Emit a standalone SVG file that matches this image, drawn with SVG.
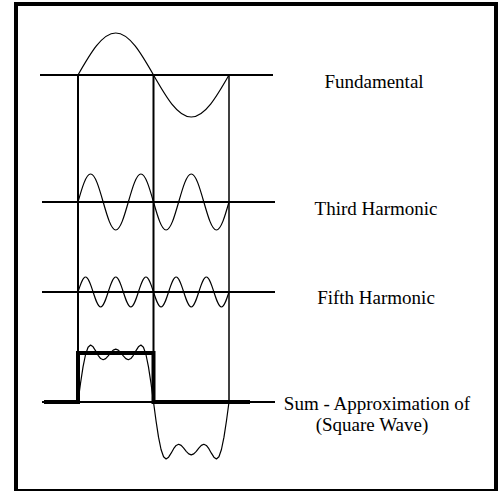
<svg xmlns="http://www.w3.org/2000/svg" width="503" height="491" viewBox="0 0 503 491">
<style>
.frame{fill:none;stroke:#000;stroke-width:4}
.axis{stroke:#000;stroke-width:2;fill:none}
.vline{stroke:#000;stroke-width:2;fill:none}
.wave{stroke:#000;stroke-width:1.2;fill:none;stroke-linejoin:round}
.square{stroke:#000;stroke-width:4;fill:none;stroke-linejoin:miter}
.label{font-family:"Liberation Serif","Times New Roman",serif;font-size:19px;fill:#000;text-anchor:middle}
</style>
<rect class="frame" x="16" y="4" width="480" height="487"/>
<g id="connectors">
<line class="vline" x1="78" y1="75" x2="78" y2="353"/>
<line class="vline" x1="153.5" y1="75" x2="153.5" y2="353"/>
<line class="vline" x1="229" y1="75" x2="229" y2="402" style="stroke-width:1.5"/>
</g>
<g id="fundamental">
<line class="axis" x1="40" y1="75" x2="273" y2="75"/>
<path class="wave" d="M78,75 C90.31,53.48 102.09,33 115.75,33 C129.41,33 141.19,53.48 153.5,75 C165.81,96.52 177.59,117 191.25,117 C204.91,117 216.69,96.52 229,75"/>
<text class="label" x="374" y="88">Fundamental</text>
</g>
<g id="third">
<line class="axis" x1="42" y1="202" x2="275" y2="202"/>
<path class="wave" d="M78,202 C82.10,187.66 86.03,174 90.58,174 C95.14,174 99.06,187.66 103.17,202 C107.27,216.34 111.20,230 115.75,230 C120.30,230 124.23,216.34 128.33,202 C132.44,187.66 136.36,174 140.92,174 C145.47,174 149.40,187.66 153.5,202 C157.60,216.34 161.53,230 166.08,230 C170.64,230 174.56,216.34 178.67,202 C182.77,187.66 186.70,174 191.25,174 C195.80,174 199.73,187.66 203.83,202 C207.94,216.34 211.86,230 216.42,230 C220.97,230 224.90,216.34 229,202"/>
<text class="label" x="376" y="215">Third Harmonic</text>
</g>
<g id="fifth">
<line class="axis" x1="42" y1="292" x2="275" y2="292"/>
<path class="wave" d="M78,292 C80.46,284.32 82.82,277 85.55,277 C88.28,277 90.64,284.32 93.1,292 C95.56,299.68 97.92,307 100.65,307 C103.38,307 105.74,299.68 108.2,292 C110.66,284.32 113.02,277 115.75,277 C118.48,277 120.84,284.32 123.3,292 C125.76,299.68 128.12,307 130.85,307 C133.58,307 135.94,299.68 138.4,292 C140.86,284.32 143.22,277 145.950,277 C148.68,277 151.04,284.32 153.5,292 C155.96,299.68 158.32,307 161.05,307 C163.78,307 166.14,299.68 168.6,292 C171.06,284.32 173.42,277 176.15,277 C178.88,277 181.24,284.32 183.7,292 C186.16,299.68 188.52,307 191.25,307 C193.98,307 196.34,299.68 198.8,292 C201.26,284.32 203.62,277 206.35,277 C209.08,277 211.44,284.32 213.9,292 C216.36,299.68 218.72,307 221.45,307 C224.18,307 226.54,299.68 229,292"/>
<text class="label" x="376" y="304">Fifth Harmonic</text>
</g>
<g id="sum">
<line class="axis" x1="42" y1="402" x2="275" y2="402"/>
<polyline class="wave" points="78,402 80.52,383.24 83.03,366.80 85.55,354.50 88.07,347.28 90.58,345.07 93.10,346.81 95.62,350.83 98.13,355.28 100.65,358.57 103.17,359.74 105.68,358.66 108.20,355.94 110.72,352.68 113.23,350.11 115.75,349.13 118.27,350.11 120.78,352.68 123.30,355.94 125.82,358.66 128.33,359.74 130.85,358.57 133.37,355.28 135.88,350.83 138.40,346.81 140.92,345.07 143.43,347.28 145.95,354.50 148.47,366.80 150.98,383.24 153.5,402 156.02,420.76 158.53,437.20 161.05,449.50 163.57,456.72 166.08,458.93 168.60,457.19 171.12,453.17 173.63,448.72 176.15,445.43 178.67,444.26 181.18,445.34 183.70,448.06 186.22,451.32 188.73,453.89 191.25,454.87 193.77,453.89 196.28,451.32 198.80,448.06 201.32,445.34 203.83,444.26 206.35,445.43 208.87,448.72 211.38,453.17 213.90,457.19 216.42,458.93 218.93,456.72 221.45,449.50 223.97,437.20 226.48,420.76 229,402"/>
<path class="square" d="M44,402 H78 V353 H153.5 V402 H250"/>
<text class="label" x="377" y="410">Sum - Approximation of</text>
<text class="label" x="372" y="431">(Square Wave)</text>
</g>
</svg>
